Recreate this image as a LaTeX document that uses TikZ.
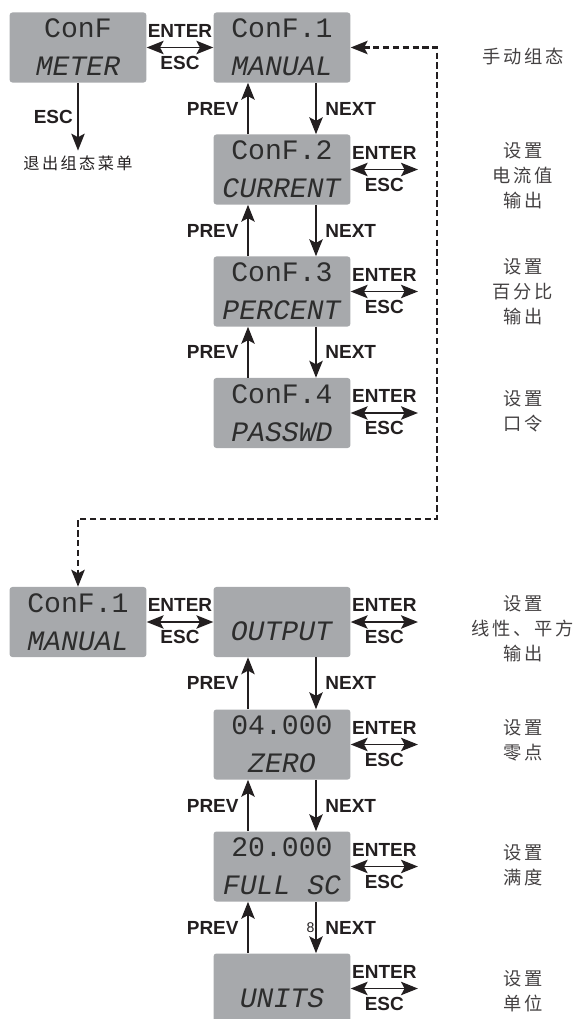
\documentclass[tikz,border=0pt]{standalone}
\usepackage{fontspec}
\setmainfont{Liberation Sans}
\newfontfamily\lcdfont{Liberation Mono}
\newfontfamily\cjkfont[LetterSpace=15]{Noto Sans CJK SC}
\usetikzlibrary{calc,arrows.meta}
\definecolor{lcdgray}{RGB}{167,169,172}
\definecolor{lcdink}{RGB}{45,45,45}
\definecolor{ink}{RGB}{35,31,32}

\begin{document}
\begin{tikzpicture}[x=0.025cm,y=-0.025cm,
        >={Stealth[length=12pt,width=9.5pt,inset=2.5pt]},
        link/.style={draw=ink,line width=1.4pt},
        lcd/.style={fill=lcdgray,rounded corners=2pt,minimum width=3.42cm,minimum height=1.75cm,
            inner sep=0pt,align=center,text=lcdink,font=\lcdfont\fontsize{20}{27}\selectfont},
        key/.style={font=\bfseries\fontsize{13.5}{15}\selectfont,text=ink,inner sep=0pt},
        note/.style={font=\cjkfont\fontsize{13}{17.7}\selectfont,text=ink!85,align=center}]
        \useasboundingbox (0,0) rectangle (579,1019);

        % upper menu
        \node[lcd] (meter) at (78,47.5) {ConF\\\textit{METER}};
        \node[lcd] (c1) at (282,47.5) {ConF.1\\\textit{MANUAL}};
        \node[lcd] (c2) at (282,169.5) {ConF.2\\\textit{CURRENT}};
        \node[lcd] (c3) at (282,291.5) {ConF.3\\\textit{PERCENT}};
        \node[lcd] (c4) at (282,413) {ConF.4\\\textit{PASSWD}};
        \node[font=\cjkfont\fontsize{11.5}{13}\selectfont,text=ink] (quit) at (78,163) {退出组态菜单};

        % lower menu
        \node[lcd] (m1) at (78,622) {ConF.1\\\textit{MANUAL}};
        \node[lcd] (out) at (282,622) {\mbox{}\\\textit{OUTPUT}};
        \node[lcd] (zero) at (282,744.5) {04.000\\\textit{ZERO}};
        \node[lcd] (full) at (282,866.5) {20.000\\\textit{FULL SC}};
        \node[lcd] (units) at (282,988.5) {\mbox{}\\\textit{UNITS}};

        % notes
        \node[note] (n1) at (523,57) {手动组态};
        \node[note] (n2) at (523,176) {设置\\电流值\\输出};
        \node[note] (n3) at (523,292) {设置\\百分比\\输出};
        \node[note] (n4) at (523,411.5) {设置\\口令};
        \node[note] (n5) at (523,629) {设置\\线性、平方\\输出};
        \node[note] (n6) at (523,740.5) {设置\\零点};
        \node[note] (n7) at (523,865.5) {设置\\满度};
        \node[note] (n8) at (523,991) {设置\\单位};

        \draw[link,->] (meter) -- node[key,left=3pt]{ESC} (quit);
        \draw[link,<->] (meter) -- node[key,above=6.7pt]{ENTER} node[key,below=5.3pt]{ESC} (c1);
        \draw[link,<->] (m1) -- node[key,above=6.7pt]{ENTER} node[key,below=5.3pt]{ESC} (out);

        \coordinate (c2r) at ([xshift=1.68cm]c2.east);
        \coordinate (c3r) at ([xshift=1.68cm]c3.east);
        \coordinate (c4r) at ([xshift=1.68cm]c4.east);
        \coordinate (outr) at ([xshift=1.68cm]out.east);
        \coordinate (zeror) at ([xshift=1.68cm]zero.east);
        \coordinate (fullr) at ([xshift=1.68cm]full.east);
        \coordinate (unitsr) at ([xshift=1.68cm]units.east);
        \draw[link,<->] (c2) -- node[key,above=6.7pt]{ENTER} node[key,below=5.3pt]{ESC} (c2r);
        \draw[link,<->] (c3) -- node[key,above=6.7pt]{ENTER} node[key,below=5.3pt]{ESC} (c3r);
        \draw[link,<->] (c4) -- node[key,above=6.7pt]{ENTER} node[key,below=5.3pt]{ESC} (c4r);
        \draw[link,<->] (out) -- node[key,above=6.7pt]{ENTER} node[key,below=5.3pt]{ESC} (outr);
        \draw[link,<->] (zero) -- node[key,above=6.7pt]{ENTER} node[key,below=5.3pt]{ESC} (zeror);
        \draw[link,<->] (full) -- node[key,above=6.7pt]{ENTER} node[key,below=5.3pt]{ESC} (fullr);
        \draw[link,<->] (units) -- node[key,above=6.7pt]{ENTER} node[key,below=5.3pt]{ESC} (unitsr);

        \draw[link,->] ([xshift=-0.85cm]c2.north) -- node[key,left=6pt]{PREV} ([xshift=-0.85cm]c1.south);
        \draw[link,->] ([xshift=0.85cm]c1.south) -- node[key,right=6pt]{NEXT} ([xshift=0.85cm]c2.north);
        \draw[link,->] ([xshift=-0.85cm]c3.north) -- node[key,left=6pt]{PREV} ([xshift=-0.85cm]c2.south);
        \draw[link,->] ([xshift=0.85cm]c2.south) -- node[key,right=6pt]{NEXT} ([xshift=0.85cm]c3.north);
        \draw[link,->] ([xshift=-0.85cm]c4.north) -- node[key,left=6pt]{PREV} ([xshift=-0.85cm]c3.south);
        \draw[link,->] ([xshift=0.85cm]c3.south) -- node[key,right=6pt]{NEXT} ([xshift=0.85cm]c4.north);
        \draw[link,->] ([xshift=-0.85cm]zero.north) -- node[key,left=6pt]{PREV} ([xshift=-0.85cm]out.south);
        \draw[link,->] ([xshift=0.85cm]out.south) -- node[key,right=6pt]{NEXT} ([xshift=0.85cm]zero.north);
        \draw[link,->] ([xshift=-0.85cm]full.north) -- node[key,left=6pt]{PREV} ([xshift=-0.85cm]zero.south);
        \draw[link,->] ([xshift=0.85cm]zero.south) -- node[key,right=6pt]{NEXT} ([xshift=0.85cm]full.north);
        \draw[link,->] ([xshift=-0.85cm]units.north) -- node[key,left=6pt]{PREV} ([xshift=-0.85cm]full.south);
        \draw[link,->] ([xshift=0.85cm]full.south) -- node[key,right=6pt]{NEXT}
            node[left=0.5pt,inner sep=0pt,font=\fontsize{10}{12}\selectfont,text=ink]{8} ([xshift=0.85cm]units.north);

        % jump between the two menus
        \coordinate (turn) at (437,519);
        \draw[link,<->,line width=1.7pt,dash pattern=on 4.5pt off 2.5pt] (c1.east) -| (turn) -| (m1.north);

    \end{tikzpicture}
\end{document}
